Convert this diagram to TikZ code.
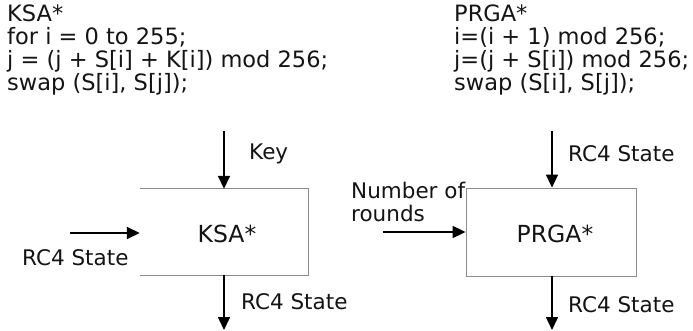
\documentclass[tikz,border=0pt]{standalone}
\usepackage{fontspec}
\setmainfont{DejaVu Sans}
\usetikzlibrary{arrows.meta}
\begin{document}
\begin{tikzpicture}[x=1pt,y=-1pt,
  lbl/.style={inner sep=0pt,anchor=base west,font=\fontsize{21.5}{23}\selectfont,text=black!92},
  boxlbl/.style={inner sep=0pt,anchor=base,font=\fontsize{23.5}{25}\selectfont,text=black!92},
  code/.style={inner sep=0pt,anchor=base west,align=left,font=\fontsize{22.5}{23}\selectfont,text=black!92},
  boxline/.style={draw=black!45,line width=0.8pt},
  arr/.style={line width=1.7pt,-{Triangle[length=13pt,width=12pt]}}]
\useasboundingbox (0,0) rectangle (693,331);
% code texts (anchored at the baseline of the last line)
\node[code] (ksacode) at (7,91) {KSA*\\for i = 0 to 255;\\j = (j + S[i] + K[i]) mod 256;\\swap (S[i], S[j]);};
\node[code] (prgacode) at (454,91) {PRGA*\\i=(i + 1) mod 256;\\j=(j + S[i]) mod 256;\\swap (S[i], S[j]);};
% boxes
\node[minimum width=168pt,minimum height=86pt,inner sep=0pt] (ksa) at (224,232) {};
\draw[boxline] (ksa.north west) -- (ksa.north east) -- (ksa.south east) -- (ksa.south west);
\node[boxlbl] (ksalbl) at (227,242) {KSA*};
\node[boxline,minimum width=170pt,minimum height=88pt,inner sep=0pt] (prga) at (551,232) {};
\node[boxlbl] (prgalbl) at (555,242) {PRGA*};
% KSA arrows
\coordinate (k1) at (224,131);
\draw[arr] (k1) -- (ksa.north);
\node[lbl] (key) at (249,160) {Key};
\coordinate (k2) at (70,233);
\draw[arr] (k2) -- (ksa.west |- k2);
\node[lbl] (kin) at (22,265) {RC4 State};
\coordinate (k3) at (224,330);
\draw[arr] (ksa.south) -- (k3);
\node[lbl] (kout) at (241,309) {RC4 State};
% PRGA arrows
\coordinate (p1) at (552,131);
\draw[arr] (p1) -- (prga.north -| p1);
\node[lbl] (pin) at (568,162) {RC4 State};
\coordinate (p2) at (383,232);
\draw[arr] (p2) -- (prga.west);
\node[lbl] (rounds1) at (351,199) {Number of};
\node[lbl] (rounds2) at (351,222) {rounds};
\coordinate (p3) at (552,330);
\draw[arr] (prga.south -| p3) -- (p3);
\node[lbl] (pout) at (568,312) {RC4 State};
\end{tikzpicture}
\end{document}
